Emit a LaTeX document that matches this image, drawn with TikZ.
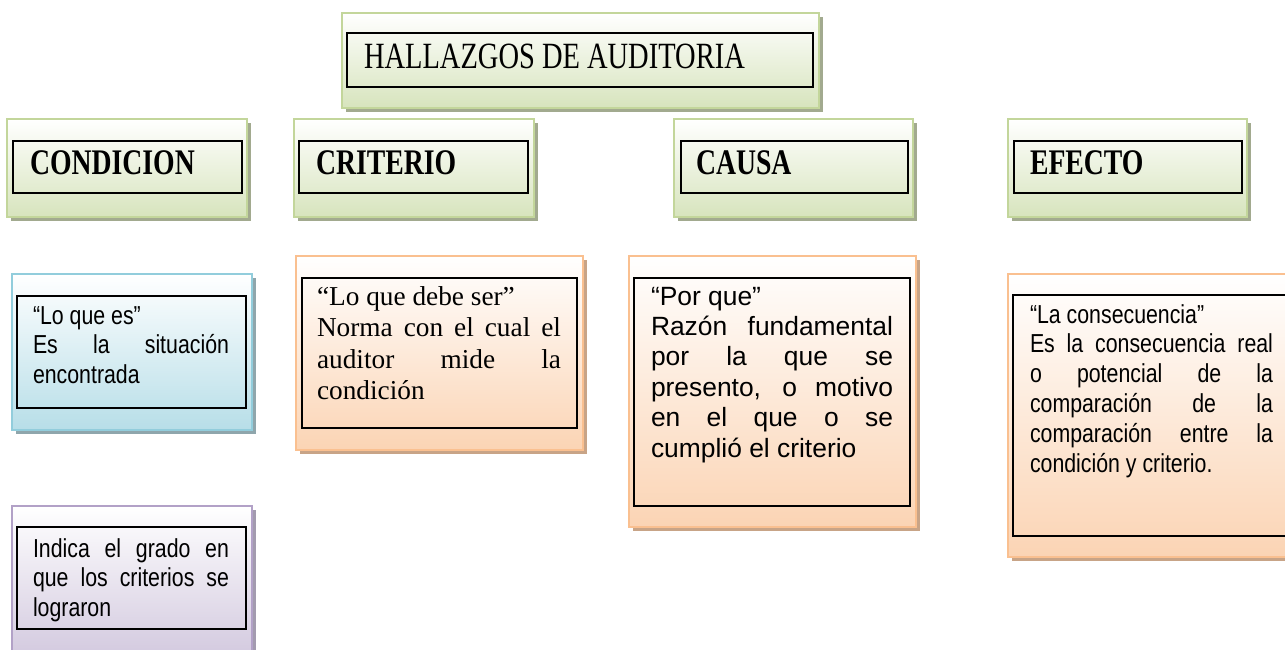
\documentclass[tikz,border=0pt]{standalone}
\usepackage{fontspec}
\setmainfont{Liberation Serif}
\newfontfamily\capsfont[FakeStretch=0.77]{Liberation Serif}
\newfontfamily\narrowfont[FakeStretch=0.82]{Liberation Sans}
\newfontfamily\arialfont{Liberation Sans}
\usetikzlibrary{shadows}
\definecolor{gBorder}{RGB}{195,214,155}
\definecolor{gFill}{RGB}{215,228,189}
\definecolor{gShadow}{RGB}{162,170,143}
\definecolor{cBorder}{RGB}{146,205,220}
\definecolor{cFill}{RGB}{183,222,232}
\definecolor{cShadow}{RGB}{143,166,172}
\definecolor{pBorder}{RGB}{250,192,144}
\definecolor{pFill}{RGB}{251,212,180}
\definecolor{pShadow}{RGB}{200,164,135}
\definecolor{vBorder}{RGB}{178,161,199}
\definecolor{vFill}{RGB}{204,193,218}
\definecolor{vShadow}{RGB}{163,155,175}
\newcommand\jlin[2]{\hbox to #1{\spaceskip=.25em plus 1fil\relax #2}}
\newcommand\llin[1]{\hbox{#1}}
\tikzset{
  outerbox/.style n args={3}{draw=#1, line width=2pt, top color=white, bottom color=#2,
    inner sep=0pt, outer sep=0pt,
    drop shadow={shadow xshift=4pt, shadow yshift=-4pt, fill=#3, opacity=1}},
  gbox/.style={outerbox={gBorder}{gFill}{gShadow}},
  cbox/.style={outerbox={cBorder}{cFill}{cShadow}},
  pbox/.style={outerbox={pBorder}{pFill}{pShadow}},
  vbox/.style={outerbox={vBorder}{vFill}{vShadow}},
  inbox/.style={draw=black, line width=2pt, inner sep=0pt, outer sep=0pt},
  txt/.style={inner sep=0pt, outer sep=0pt, anchor=base west},
  hdr/.style={txt, font=\capsfont\bfseries\fontsize{36}{40}\selectfont},
  narrowtxt/.style={txt, font=\narrowfont\fontsize{26}{29.8}\selectfont},
  arialtxt/.style={txt, font=\arialfont\fontsize{26.4}{30.4}\selectfont},
  seriftxt/.style={txt, font=\fontsize{27.3}{31.6}\selectfont},
}
\begin{document}
\begin{tikzpicture}[x=1pt, y=-1pt]
\useasboundingbox (0,0) rectangle (1285,650);
\fill[white] (0,0) rectangle (1285,650);
\clip (0,0) rectangle (1285,650);

% title
\node[gbox, minimum width=477pt, minimum height=95pt] (titleO) at (580.5,60.5) {};
\node[inbox, minimum width=466pt, minimum height=54pt] (titleI) at (580,60) {};
\node[txt, font=\capsfont\fontsize{37}{42}\selectfont] (titleT) at (364,69) {HALLAZGOS DE AUDITORIA};

% headers
\node[gbox, minimum width=240pt, minimum height=98pt] (condO) at (127,168) {};
\node[inbox, minimum width=229pt, minimum height=52pt] (condI) at (127.5,167) {};
\node[hdr] (condT) at (30,175) {CONDICION};

\node[gbox, minimum width=240pt, minimum height=98pt] (critO) at (414,168) {};
\node[inbox, minimum width=229pt, minimum height=52pt] (critI) at (413.5,167) {};
\node[hdr] (critT) at (316,175) {CRITERIO};

\node[gbox, minimum width=239pt, minimum height=98pt] (causO) at (793.5,168) {};
\node[inbox, minimum width=227pt, minimum height=52pt] (causI) at (794.5,167) {};
\node[hdr] (causT) at (696,175) {CAUSA};

\node[gbox, minimum width=239pt, minimum height=98pt] (efecO) at (1127.5,168) {};
\node[inbox, minimum width=228pt, minimum height=52pt] (efecI) at (1128,167) {};
\node[hdr] (efecT) at (1030,175) {EFECTO};

% condicion body
\node[cbox, minimum width=240pt, minimum height=156pt] (b1O) at (132,352) {};
\node[inbox, minimum width=229pt, minimum height=112pt] (b1I) at (131.5,352) {};
\node[narrowtxt] (b1T) at (33,324) {\vtop{\llin{“Lo que es”}\jlin{196pt}{Es la situación}\llin{encontrada}}};

% criterio body
\node[pbox, minimum width=287pt, minimum height=194pt] (b2O) at (439.5,353) {};
\node[inbox, minimum width=275pt, minimum height=150pt] (b2I) at (439.5,353) {};
\node[seriftxt] (b2T) at (317,305) {\vtop{\llin{“Lo que debe ser”}\jlin{244pt}{Norma con el cual el}\jlin{244pt}{auditor mide la}\llin{condición}}};

% causa body
\node[pbox, minimum width=287pt, minimum height=271pt] (b3O) at (772.5,391.5) {};
\node[inbox, minimum width=276pt, minimum height=228pt] (b3I) at (772,392) {};
\node[arialtxt] (b3T) at (651,305) {\vtop{\llin{“Por que”}\jlin{242pt}{Razón fundamental}\jlin{242pt}{por la que se}\jlin{242pt}{presento, o motivo}\jlin{242pt}{en el que o se}\llin{cumplió el criterio}}};

% efecto body
\node[pbox, minimum width=292pt, minimum height=283pt] (b4O) at (1154,415.5) {};
\node[inbox, minimum width=282pt, minimum height=241pt] (b4I) at (1154,415.5) {};
\node[narrowtxt] (b4T) at (1030,323) {\vtop{\llin{“La consecuencia”}\jlin{243pt}{Es la consecuencia real}\jlin{243pt}{o potencial de la}\jlin{243pt}{comparación de la}\jlin{243pt}{comparación entre la}\llin{condición y criterio.}}};

% purple box
\node[vbox, minimum width=240pt, minimum height=174pt] (b5O) at (132,593) {};
\node[inbox, minimum width=229pt, minimum height=102pt] (b5I) at (131.5,578) {};
\node[narrowtxt] (b5T) at (33,557) {\vtop{\jlin{196pt}{Indica el grado en}\jlin{196pt}{que los criterios se}\llin{lograron}}};
\end{tikzpicture}
\end{document}
